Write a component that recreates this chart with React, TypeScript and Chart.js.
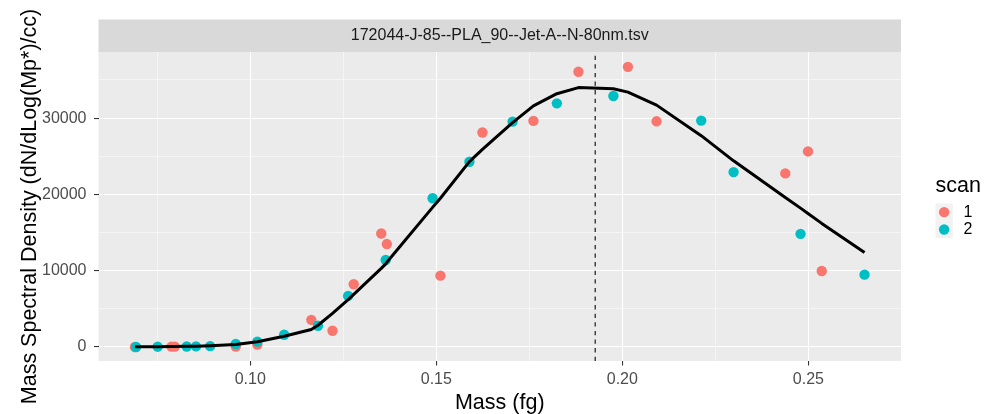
import React, { useEffect, useRef } from "react";
import { Chart, registerables } from "chart.js";

Chart.register(...registerables);

// ---- data ----
const scan1Mass = [0.069, 0.0788, 0.0797, 0.0961, 0.1019, 0.1164, 0.1221, 0.1278, 0.1352, 0.1367, 0.1511, 0.1624, 0.1761, 0.1882, 0.2015, 0.2092, 0.2438, 0.2499, 0.2536];
const scan1Density = [0, 50, 50, 60, 320, 3560, 2130, 8220, 14880, 13490, 9350, 28110, 29630, 36070, 36720, 29580, 22750, 25630, 9960];

const scan2Mass = [0.0693, 0.0751, 0.0829, 0.0854, 0.0892, 0.0961, 0.1019, 0.1091, 0.1182, 0.1263, 0.1364, 0.149, 0.1589, 0.1705, 0.1824, 0.1976, 0.2212, 0.2299, 0.2479, 0.2651];
const scan2Density = [0, 40, 60, 80, 110, 390, 700, 1600, 2780, 6700, 11400, 19490, 24280, 29540, 31930, 32900, 29670, 22920, 14830, 9480];

const fitMass = [0.069, 0.0693, 0.0751, 0.0788, 0.0797, 0.0829, 0.0854, 0.0892, 0.0961, 0.1019, 0.1091, 0.1164, 0.1182, 0.1221, 0.1263, 0.1278, 0.1352, 0.1364, 0.1367, 0.149, 0.1511, 0.1589, 0.1624, 0.1705, 0.1761, 0.1824, 0.1882, 0.1976, 0.2015, 0.2092, 0.2212, 0.2299, 0.2438, 0.2479, 0.2499, 0.2536, 0.2651];
const fitDensity = [20, 20, 40, 55, 60, 85, 110, 170, 330, 700, 1400, 2300, 2850, 4400, 6200, 6900, 10300, 10900, 11100, 18300, 19500, 24300, 25900, 29400, 31600, 33200, 34000, 33850, 33400, 31700, 27700, 24400, 19600, 18200, 17500, 16200, 12400];

const modeMass = 0.1927;

const xTickValues = [0.075, 0.1, 0.125, 0.15, 0.175, 0.2, 0.225, 0.25];
const xTickLabels = ["", "0.10", "", "0.15", "", "0.20", "", "0.25"];
const yTickValues = [0, 5000, 10000, 15000, 20000, 25000, 30000, 35000];
const yTickLabels = ["0", "", "10000", "", "20000", "", "30000", ""];

const stripTitle = "172044-J-85--PLA_90--Jet-A--N-80nm.tsv";
const xTitle = "Mass (fg)";
const yTitle = "Mass Spectral Density (dN/dLog(Mp*)/cc)";
const legendTitle = "scan";
const legendLabels = ["1", "2"];
const seriesColors = ["#F8766D", "#00BFC4"];

const FONT = "'Liberation Sans', Arial, Helvetica, sans-serif";

const toPoints = (xs: number[], ys: number[]) => xs.map((x, i) => ({ x, y: ys[i] }));

const ggDecor = {
  id: "ggDecor",
  beforeDraw(chart: any) {
    const { ctx, chartArea: a } = chart;
    ctx.save();
    ctx.fillStyle = "#FFFFFF";
    ctx.fillRect(0, 0, chart.width, chart.height);
    ctx.fillStyle = "#EBEBEB";
    ctx.fillRect(a.left, a.top, a.right - a.left, a.bottom - a.top);
    ctx.fillStyle = "#D9D9D9";
    ctx.fillRect(a.left, a.top - 32.5, a.right - a.left, 32.5);
    ctx.restore();
  },
  afterDatasetsDraw(chart: any) {
    const { ctx, chartArea: a, scales } = chart;
    const px = scales.x.getPixelForValue(modeMass);
    ctx.save();
    ctx.strokeStyle = "#000000";
    ctx.lineWidth = 1.07;
    ctx.setLineDash([4.3, 4.3]);
    ctx.beginPath();
    ctx.moveTo(px, a.bottom);
    ctx.lineTo(px, a.top);
    ctx.stroke();
    ctx.restore();
  },
  afterDraw(chart: any) {
    const { ctx, chartArea: a } = chart;
    ctx.save();
    // strip text
    ctx.fillStyle = "#1A1A1A";
    ctx.font = `16px ${FONT}`;
    ctx.textAlign = "center";
    ctx.textBaseline = "middle";
    ctx.fillText(stripTitle, (a.left + a.right) / 2, a.top - 16.25);

    // axis titles
    ctx.fillStyle = "#000000";
    ctx.font = `21.5px ${FONT}`;
    ctx.textBaseline = "alphabetic";
    ctx.fillText(xTitle, (a.left + a.right) / 2, 408.5);
    ctx.save();
    ctx.translate(36, (a.top + a.bottom) / 2);
    ctx.rotate(-Math.PI / 2);
    ctx.fillText(yTitle, 0, 0);
    ctx.restore();

    // legend
    const lx = 935.5;
    ctx.textAlign = "left";
    ctx.fillText(legendTitle, lx, 191.5);
    const key = 17.3;
    legendLabels.forEach((lab, i) => {
      const ky = 203.5 + i * key;
      ctx.fillStyle = "#F2F2F2";
      ctx.fillRect(lx, ky, key, key);
      ctx.fillStyle = seriesColors[i];
      ctx.beginPath();
      ctx.arc(lx + key / 2, ky + key / 2, 5.2, 0, Math.PI * 2);
      ctx.fill();
      ctx.fillStyle = "#000000";
      ctx.font = `16px ${FONT}`;
      ctx.textBaseline = "middle";
      ctx.fillText(lab, 963.5, ky + key / 2 + 0.5);
    });
    ctx.restore();
  },
};

export default function App() {
  const canvasRef = useRef<HTMLCanvasElement | null>(null);

  useEffect(() => {
    if (!canvasRef.current) return;
    const chart = new Chart(canvasRef.current, {
      type: "scatter",
      data: {
        datasets: [
          {
            type: "line",
            label: "fit",
            data: toPoints(fitMass, fitDensity),
            borderColor: "#000000",
            borderWidth: 3,
            borderJoinStyle: "round",
            pointRadius: 0,
            tension: 0,
            fill: false,
            order: 0,
          } as any,
          {
            label: legendLabels[1],
            data: toPoints(scan2Mass, scan2Density),
            backgroundColor: seriesColors[1],
            borderWidth: 0,
            pointRadius: 5.2,
            order: 1,
          },
          {
            label: legendLabels[0],
            data: toPoints(scan1Mass, scan1Density),
            backgroundColor: seriesColors[0],
            borderWidth: 0,
            pointRadius: 5.2,
            order: 2,
          },
        ],
      },
      options: {
        animation: false,
        responsive: false,
        events: [],
        layout: { padding: { top: 52, right: 91, left: 0, bottom: 0 } },
        plugins: { legend: { display: false }, tooltip: { enabled: false } },
        scales: {
          x: {
            type: "linear",
            min: 0.0592,
            max: 0.2749,
            border: { display: false },
            afterBuildTicks: (s: any) => {
              s.ticks = xTickValues.map((v) => ({ value: v }));
            },
            afterFit: (s: any) => {
              s.height = 53;
            },
            grid: {
              color: "#FFFFFF",
              lineWidth: (c: any) => (xTickLabels[c.index] ? 1.07 : 0.53),
              tickColor: (c: any) => (xTickLabels[c.index] ? "#333333" : "rgba(0,0,0,0)"),
              tickWidth: 1.07,
              tickLength: 4.5,
              drawTicks: true,
            },
            ticks: {
              autoSkip: false,
              maxRotation: 0,
              padding: 4,
              color: "#4D4D4D",
              font: { family: FONT, size: 16 },
              callback: (_v: any, i: number) => xTickLabels[i],
            },
          },
          y: {
            type: "linear",
            min: -1835,
            max: 38663,
            border: { display: false },
            afterBuildTicks: (s: any) => {
              s.ticks = yTickValues.map((v) => ({ value: v }));
            },
            afterFit: (s: any) => {
              s.width = 98.5;
            },
            grid: {
              color: "#FFFFFF",
              lineWidth: (c: any) => (yTickLabels[c.index] ? 1.07 : 0.53),
              tickColor: (c: any) => (yTickLabels[c.index] ? "#333333" : "rgba(0,0,0,0)"),
              tickWidth: 1.07,
              tickLength: 4.5,
              drawTicks: true,
            },
            ticks: {
              autoSkip: false,
              padding: 7.5,
              color: "#4D4D4D",
              font: { family: FONT, size: 16 },
              callback: (_v: any, i: number) => yTickLabels[i],
            },
          },
        },
      },
      plugins: [ggDecor],
    });
    return () => chart.destroy();
  }, []);

  return (
    <div style={{ position: "absolute", left: 0, top: 0, width: 992, height: 414 }}>
      <canvas ref={canvasRef} width={992} height={414} style={{ display: "block" }} />
    </div>
  );
}
